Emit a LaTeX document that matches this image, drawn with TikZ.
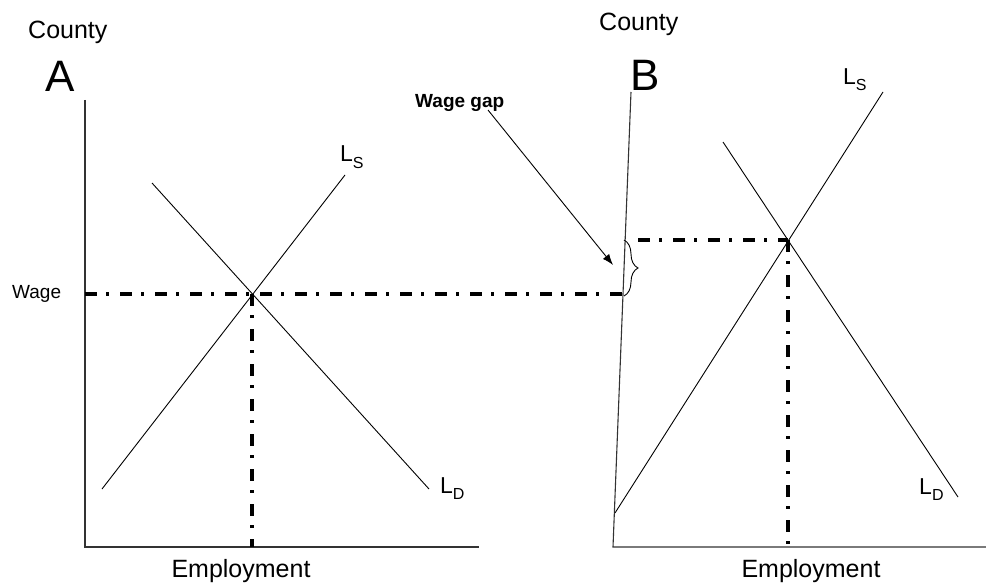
\documentclass[tikz,border=0pt]{standalone}
\usepackage{fontspec}
\setmainfont{Liberation Sans}
\usetikzlibrary{decorations.pathreplacing,arrows.meta}
\newcommand\LSub[1]{L\raisebox{-6pt}{\fontsize{16}{16}\selectfont #1}}
\begin{document}
\begin{tikzpicture}[x=1pt,y=-1pt,
  thinline/.style={line width=0.9pt},
  axisline/.style={line width=1.1pt, draw=black!80},
  dashdotline/.style={line width=3.5pt, dash pattern=on 12pt off 9pt on 3pt off 11pt},
  lbl/.style={inner sep=0pt, anchor=base west},
  bigtxt/.style={lbl, font=\fontsize{25}{30}\selectfont},
  lettertxt/.style={lbl, font=\fontsize{44}{50}\selectfont},
  curvetxt/.style={lbl, font=\fontsize{23}{28}\selectfont},
  smalltxt/.style={lbl, font=\fontsize{19}{23}\selectfont},
  gaptxt/.style={lbl, font=\bfseries\fontsize{19}{23}\selectfont}]
\useasboundingbox (0,0) rectangle (986,583);

% ---------- Panel A ----------
\coordinate (aTop) at (85,100);
\coordinate (aO) at (85,547);
\coordinate (aRight) at (479,547);
\draw[axisline] (aTop) -- (aO) -- (aRight);

\coordinate (aLs1) at (102,489);
\coordinate (aLs2) at (345,175);
\coordinate (aLd1) at (152,183);
\coordinate (aLd2) at (429,489);
\draw[thinline] (aLs1) -- (aLs2);
\draw[thinline] (aLd1) -- (aLd2);

\coordinate (aEq) at (252,294);
\coordinate (aEqBase) at (252,547);
\coordinate (wageL) at (85,294);
\coordinate (wageR) at (624,294);
\draw[dashdotline] (wageL) -- (wageR);
\draw[dashdotline] (aEq) -- (aEqBase);

\node[bigtxt] (countyA) at (28,39) {County};
\node[lettertxt] (letterA) at (45,92) {A};
\node[curvetxt] (lsA) at (340,162) {\LSub{S}};
\node[curvetxt] (ldA) at (440,493) {\LSub{D}};
\node[smalltxt] (wageTxt) at (12,298) {Wage};
\node[bigtxt, anchor=base] (empA) at (241,577) {Employment};

% ---------- Panel B ----------
\coordinate (bTop) at (631,92);
\coordinate (bO) at (613,547);
\coordinate (bRight) at (986,547);
\draw[axisline] (bTop) -- (bO) -- (bRight);

\coordinate (bLs1) at (615,513);
\coordinate (bLs2) at (883,92);
\coordinate (bLd1) at (723,142);
\coordinate (bLd2) at (958,497);
\draw[thinline] (bLs1) -- (bLs2);
\draw[thinline] (bLd1) -- (bLd2);

\coordinate (bEq) at (788,240);
\coordinate (bEqBase) at (788,547);
\coordinate (bWageL) at (638,240);
\draw[dashdotline] (bWageL) -- (bEq);
\draw[dashdotline] (bEq) -- (bEqBase);

\coordinate (braceTop) at (624,240);
\coordinate (braceBot) at (624,296);
\draw[thinline, decorate, decoration={brace, amplitude=14pt}] (braceTop) -- (braceBot);

\node[bigtxt] (countyB) at (599,31) {County};
\node[lettertxt] (letterB) at (630,91) {B};
\node[curvetxt] (lsB) at (843,85) {\LSub{S}};
\node[curvetxt] (ldB) at (919,494) {\LSub{D}};
\node[bigtxt, anchor=base] (empB) at (811,577) {Employment};

% ---------- Wage gap ----------
\node[gaptxt] (gapTxt) at (415,108) {Wage gap};
\coordinate (gapStart) at (488,110);
\coordinate (gapEnd) at (613,265);
\draw[thinline, -{Latex[length=11pt,width=8pt]}] (gapStart) -- (gapEnd);
\end{tikzpicture}
\end{document}
